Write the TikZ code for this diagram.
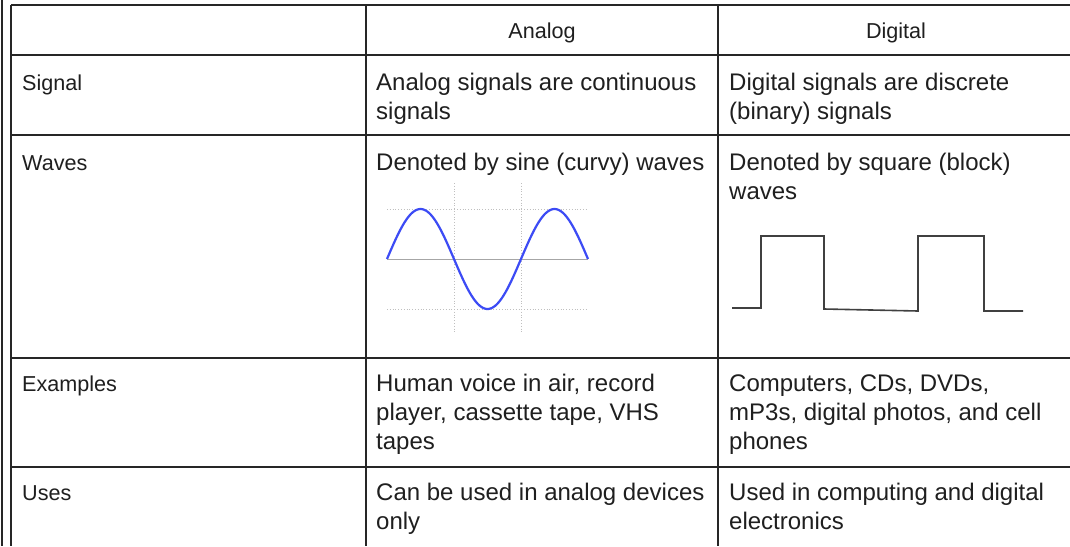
\documentclass[tikz,border=0pt]{standalone}
\usepackage{fontspec}
\setmainfont{Liberation Sans}
\begin{document}
\begin{tikzpicture}[x=1pt,y=-1pt,
  rule/.style={line width=1.5pt, draw=black!85},
  grid/.style={line width=0.8pt, draw=black!25, dotted},
  rowlabel/.style={anchor=base west, inner sep=0pt, text=black!88,
    font=\fontsize{21.6}{29}\selectfont},
  head/.style={anchor=base, inner sep=0pt, text=black!88,
    font=\fontsize{21.6}{29}\selectfont},
  % multi-line cells: the base anchor sits on the last line's baseline
  cell/.style={anchor=base west, inner sep=0pt, text=black!88, align=left,
    font=\fontsize{24}{29}\selectfont},
  sinewave/.style={line width=2.2pt, draw={rgb,255:red,60;green,75;blue,245}},
  squarewave/.style={line width=1.6pt, draw=black!75, line join=miter}
]
\useasboundingbox (0,0) rectangle (1070,546);
\fill[white] (0,0) rectangle (1070,546);

% outer frame line and table rules
\draw[rule] (2,0) -- (2,546);
\draw[rule] (11,5) -- (11,546);
\draw[rule] (366,5) -- (366,546);
\draw[rule] (718,5) -- (718,546);
\foreach \yy in {5,55,135,358,467}
  \draw[rule] (11,\yy) -- (1080,\yy);

% header row
\node[head] (hA) at (542,38) {Analog};
\node[head] (hD) at (896,38) {Digital};

% row labels
\node[rowlabel] (rSignal) at (22,90) {Signal};
\node[rowlabel] (rWaves) at (22,170) {Waves};
\node[rowlabel] (rEx) at (22,391) {Examples};
\node[rowlabel] (rUses) at (22,500) {Uses};

% analog column
\node[cell] (aSignal) at (376,119) {Analog signals are continuous\\signals};
\node[cell] (aWaves) at (376,170) {Denoted by sine (curvy) waves};
\node[cell] (aEx) at (376,449) {Human voice in air, record\\player, cassette tape, VHS\\tapes};
\node[cell] (aUses) at (376,529) {Can be used in analog devices\\only};

% digital column
\node[cell] (dSignal) at (729,119) {Digital signals are discrete\\(binary) signals};
\node[cell] (dWaves) at (729,199) {Denoted by square (block)\\waves};
\node[cell] (dEx) at (729,449) {Computers, CDs, DVDs,\\mP3s, digital photos, and cell\\phones};
\node[cell] (dUses) at (729,529) {Used in computing and digital\\electronics};

% sine wave with its grid
\draw[grid] (387,209) -- (588,209);
\draw[grid] (387,309) -- (588,309);
\draw[grid] (454,183) -- (454,334);
\draw[grid] (521,183) -- (521,334);
\draw[line width=1pt, draw=black!35] (387,259) -- (588,259);
\draw[sinewave] plot[domain=0:201, samples=120, smooth]
  ({387+\x}, {259-50*sin(\x/134*360)});

% square wave
\draw[squarewave] (732,308) -- (761,308) -- (761,236) -- (824,236)
  -- (824,309) -- (918,311) -- (918,236) -- (984,236) -- (984,311)
  -- (1023,311);
\end{tikzpicture}
\end{document}
